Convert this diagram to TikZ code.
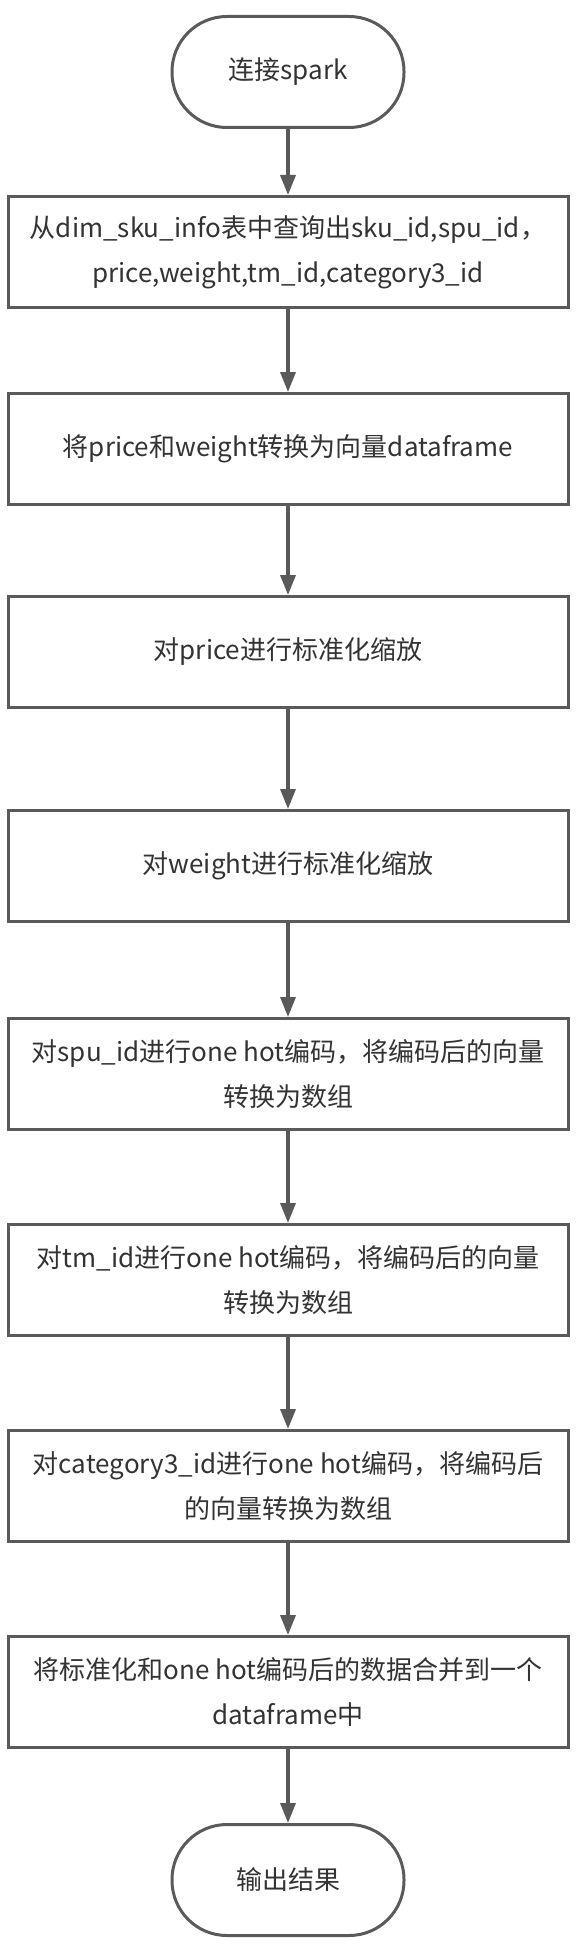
\documentclass[tikz,border=0pt]{standalone}
\usepackage{fontspec}
\setmainfont{Noto Sans CJK SC}
\usepackage{xcolor}
\definecolor{linecolor}{HTML}{5A5A5A}
\definecolor{textcolor}{HTML}{333333}
\usetikzlibrary{positioning,arrows.meta}
\tikzset{
    terminal/.style={
        rectangle,
        draw=linecolor,
        fill=white,
        text=textcolor,
        minimum width=232pt,
        minimum height=111pt,
        rounded corners=55pt,
        line width=3pt,
        align=center,
        font=\fontsize{26pt}{45pt}\selectfont,
    },
    process/.style={
        rectangle,
        draw=linecolor,
        fill=white,
        text=textcolor,
        minimum width=560pt,
        minimum height=111pt,
        line width=3pt,
        align=center,
        font=\fontsize{26pt}{45pt}\selectfont,
    },
    flow/.style={
        -{Triangle[length=20pt,width=15pt]},
        line width=3.5pt,
        linecolor,
    },
}

\begin{document}
\begin{tikzpicture}
        \useasboundingbox (0,0) rectangle (580pt,-1950pt);
        \node[terminal] (start) at (288pt,-72pt) {连接spark};
        \node[process, below=66pt of start] (query) {从dim\_sku\_info表中查询出sku\_id,spu\_id，\\price,weight,tm\_id,category3\_id};
        \node[process, below=83pt of query] (vector) {将price和weight转换为向量dataframe};
        \node[process, below=89pt of vector] (scaleprice) {对price进行标准化缩放};
        \node[process, below=100pt of scaleprice] (scaleweight) {对weight进行标准化缩放};
        \node[process, below=94pt of scaleweight] (onehotspu) {对spu\_id进行one hot编码，将编码后的向量\\转换为数组};
        \node[process, below=92pt of onehotspu] (onehottm) {对tm\_id进行one hot编码，将编码后的向量\\转换为数组};
        \node[process, below=92pt of onehottm] (onehotcat) {对category3\_id进行one hot编码，将编码后\\的向量转换为数组};
        \node[process, below=92pt of onehotcat] (merge) {将标准化和one hot编码后的数据合并到一个\\dataframe中};
        \node[terminal, below=74pt of merge] (result) {输出结果};
        
        \draw[flow] (start) -- (query);
        \draw[flow] (query) -- (vector);
        \draw[flow] (vector) -- (scaleprice);
        \draw[flow] (scaleprice) -- (scaleweight);
        \draw[flow] (scaleweight) -- (onehotspu);
        \draw[flow] (onehotspu) -- (onehottm);
        \draw[flow] (onehottm) -- (onehotcat);
        \draw[flow] (onehotcat) -- (merge);
        \draw[flow] (merge) -- (result);
    \end{tikzpicture}
\end{document}
